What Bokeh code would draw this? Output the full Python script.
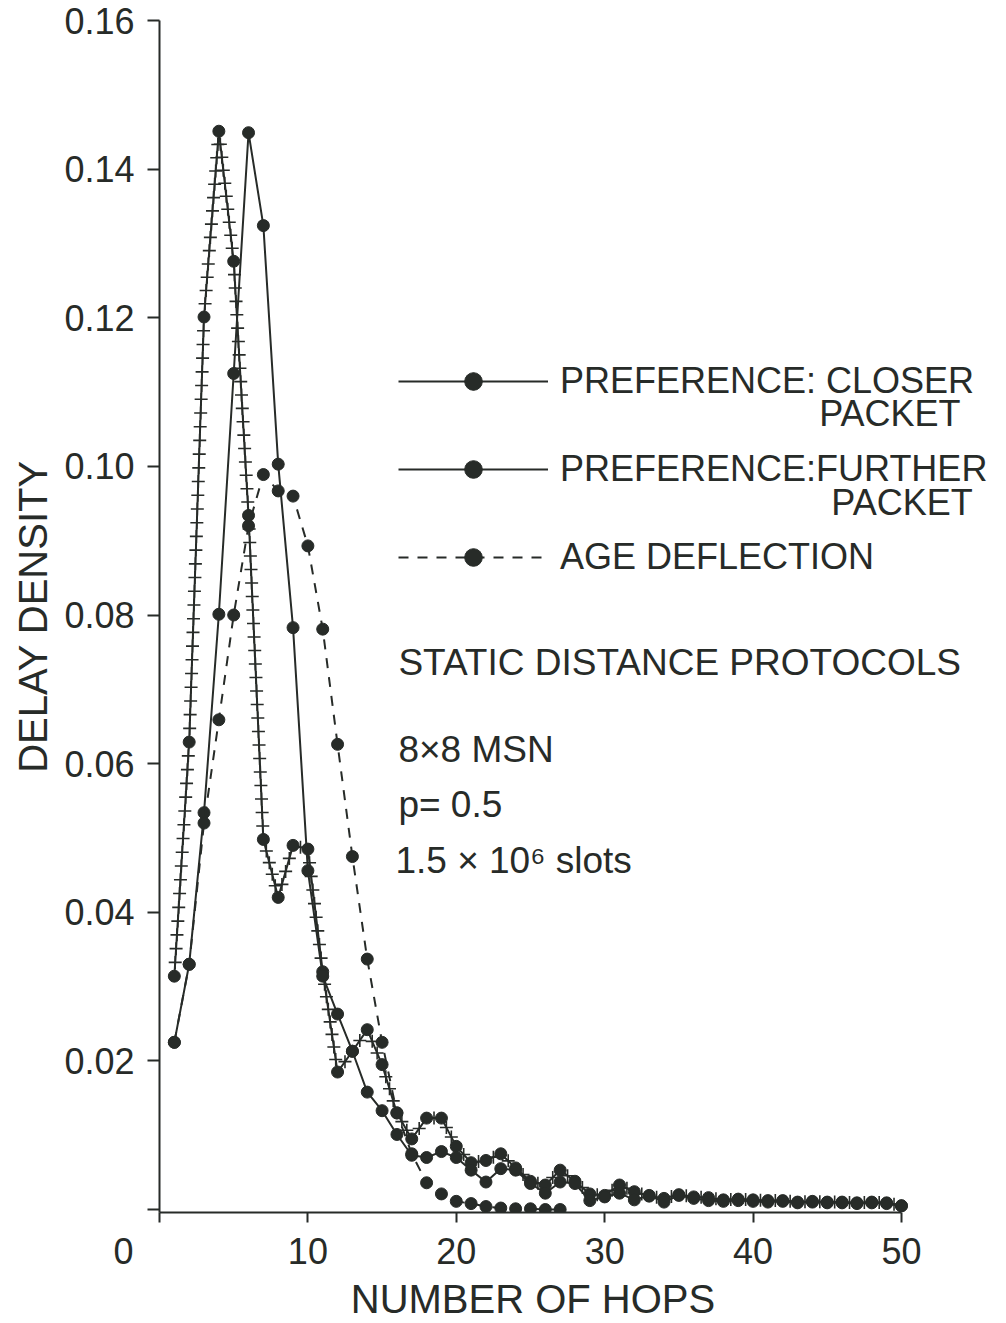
import math
from bokeh.plotting import figure
from bokeh.models import Legend, LegendItem, Label, FixedTicker, Range1d
from bokeh.embed import file_html
from bokeh.resources import INLINE

# ---------------- data ----------------
hops = list(range(1, 51))
closer = [0.0314, 0.0629, 0.1201, 0.1451, 0.1276, 0.0934, 0.0498, 0.0420, 0.0490, 0.0485,
          0.0320, 0.0185, 0.0213, 0.0242, 0.0195, 0.0130, 0.0095, 0.0123, 0.0123, 0.0085,
          0.0063, 0.0066, 0.0075, 0.0056, 0.0038, 0.0033, 0.0053, 0.0038, 0.0021, 0.0019,
          0.0033, 0.0024, 0.0018, 0.0015, 0.0020, 0.0017, 0.0016, 0.0013, 0.0014, 0.0013,
          0.0012, 0.0012, 0.0010, 0.0011, 0.0010, 0.0010, 0.0009, 0.0010, 0.0009, 0.0005]
further = [0.0225, 0.0330, 0.0534, 0.0801, 0.1125, 0.1449, 0.1324, 0.1003, 0.0783, 0.0456,
           0.0314, 0.0263, 0.0213, 0.0158, 0.0133, 0.0101, 0.0073, 0.0070, 0.0078, 0.0070,
           0.0053, 0.0037, 0.0055, 0.0053, 0.0035, 0.0022, 0.0037, 0.0035, 0.0012, 0.0017,
           0.0022, 0.0013, 0.0019, 0.0010, 0.0019, 0.0015, 0.0012, 0.0011, 0.0012, 0.0011,
           0.0010, 0.0011, 0.0009, 0.0010, 0.0009, 0.0009, 0.0008, 0.0009, 0.0008, 0.0005]
age_hops = list(range(1, 28))
age = [0.0225, 0.0330, 0.0520, 0.0659, 0.0800, 0.0920, 0.0989, 0.0967, 0.0960, 0.0893,
       0.0781, 0.0626, 0.0475, 0.0337, 0.0225, 0.0130, 0.0075, 0.0036, 0.0021, 0.0011,
       0.0008, 0.0004, 0.0002, 0.0001, 0.0001, 0.0000, 0.0000]

series_labels = ["PREFERENCE: CLOSER", "PREFERENCE:FURTHER", "AGE DEFLECTION"]
x_ticks = [0, 10, 20, 30, 40, 50]
x_tick_labels = ["0", "10", "20", "30", "40", "50"]
y_ticks = [0, 0.02, 0.04, 0.06, 0.08, 0.10, 0.12, 0.14, 0.16]
y_tick_labels = ["", "0.02", "0.04", "0.06", "0.08", "0.10", "0.12", "0.14", "0.16"]

INK = "#272b28"
FONT = "Liberation Sans"
EM = "\u2003"

W, H = 1006, 1323
BL, BR, BT = 159, 0, 20
XR = (0, 57.08)
YR = (-0.0004, 0.16)
FRAME_H = 1194
BB = H - BT - FRAME_H

p = figure(width=W, height=H, output_backend="svg", toolbar_location=None,
           x_range=Range1d(*XR), y_range=Range1d(*YR),
           min_border_left=BL, min_border_right=BR, min_border_top=BT, min_border_bottom=BB)
p.outline_line_color = None
p.grid.visible = False
p.background_fill_color = "white"
p.border_fill_color = "white"

for ax in (p.xaxis[0], p.yaxis[0]):
    ax.axis_line_color = INK
    ax.axis_line_width = 2
    ax.major_tick_line_color = INK
    ax.major_tick_line_width = 2
    ax.major_tick_in = 0
    ax.minor_tick_line_color = None
    ax.major_label_text_font = FONT
    ax.major_label_text_font_size = "36px"
    ax.major_label_text_color = INK
    ax.axis_label_text_font = FONT
    ax.axis_label_text_font_size = "40px"
    ax.axis_label_text_font_style = "normal"
    ax.axis_label_text_color = INK

xa = p.xaxis[0]
xa.ticker = FixedTicker(ticks=x_ticks)
# the "0" of the original sits left of the origin: pad it with em spaces
xa.major_label_overrides = {t: (lab + EM * 2 if t == 0 else lab) for t, lab in zip(x_ticks, x_tick_labels)}
xa.bounds = (0, 50)
xa.major_tick_out = 10
xa.major_label_standoff = 8
xa.axis_label = "NUMBER OF HOPS" + EM * 2 + "\u2002"
xa.axis_label_standoff = 2

ya = p.yaxis[0]
ya.ticker = FixedTicker(ticks=y_ticks)
ya.major_label_overrides = {t: lab for t, lab in zip(y_ticks, y_tick_labels)}
ya.major_tick_out = 12
ya.major_label_standoff = 13
ya.axis_label = "DELAY DENSITY"
ya.axis_label_standoff = 6

# ---------------- series ----------------
r_cl_line = p.line(hops, closer, line_width=2, line_color=INK)

# hatch-like "+" decoration along the closer-packet line (a line style)
frame_w = W - BL - BR
sx = frame_w / (XR[1] - XR[0])
sy = FRAME_H / (YR[1] - YR[0])
cx, cy = [], []
for i in range(len(hops) - 1):
    x0, x1 = hops[i], hops[i + 1]
    y0, y1 = closer[i], closer[i + 1]
    L = math.hypot((x1 - x0) * sx, (y1 - y0) * sy)
    n = max(2, math.ceil(L / 14.0))
    for k in range(1, n):
        t = k / n
        cx.append(x0 + t * (x1 - x0))
        cy.append(y0 + t * (y1 - y0))
r_cl_cross = p.scatter(cx, cy, marker="cross", size=13, line_width=1.6, line_color=INK)
r_cl_dots = p.scatter(hops, closer, size=12, fill_color=INK, line_color=INK)

r_fu_line = p.line(hops, further, line_width=2, line_color=INK)
r_fu_dots = p.scatter(hops, further, size=12, fill_color=INK, line_color=INK)

r_ag_line = p.line(age_hops, age, line_width=2, line_color=INK, line_dash="10 9")
r_ag_dots = p.scatter(age_hops, age, size=12, fill_color=INK, line_color=INK)

legend = Legend(items=[
    LegendItem(label=series_labels[0], renderers=[r_cl_line, r_cl_cross, r_cl_dots]),
    LegendItem(label=series_labels[1], renderers=[r_fu_line, r_fu_dots]),
    LegendItem(label=series_labels[2], renderers=[r_ag_line, r_ag_dots]),
], location=(239, 633), glyph_width=150, glyph_height=44, label_height=44, spacing=44,
    padding=0, margin=0, label_standoff=12, border_line_color=None,
    background_fill_alpha=0, label_text_font_size="36px", label_text_font=FONT,
    label_text_color=INK)
p.add_layout(legend)

def add_text(text, x, y, align="left", size="36px"):
    p.add_layout(Label(x=x, y=y, text=text, text_align=align, text_baseline="middle",
                       text_font=FONT, text_font_size=size, text_color=INK))

add_text("PACKET", 53.98, 0.1071, align="right")
add_text("PACKET", 54.8, 0.0951, align="right")
add_text("STATIC DISTANCE PROTOCOLS", 16.1, 0.0736, size="37px")
add_text("8×8 MSN", 16.1, 0.0619, size="37px")
add_text("p= 0.5", 16.1, 0.0545, size="37px")
add_text("1.5 × 10⁶ slots", 15.9, 0.0469, size="37px")

open("out.html", "w").write(file_html(p, INLINE))
